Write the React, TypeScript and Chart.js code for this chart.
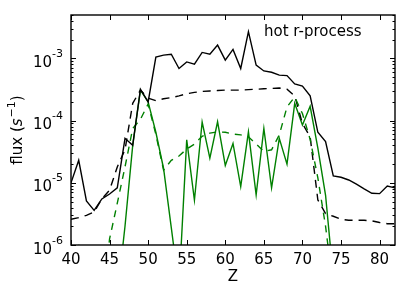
import React, { useEffect, useRef } from 'react';
import { Chart, registerables } from 'chart.js';

Chart.register(...registerables);

// ---- data ----
const Z = [40, 41, 42, 43, 44, 45, 46, 47, 48, 49, 50, 51, 52, 53, 54, 55, 56, 57, 58, 59, 60, 61, 62, 63, 64, 65, 66, 67, 68, 69, 70, 71, 72, 73, 74, 75, 76, 77, 78, 79, 80, 81, 82];

const blackSolid = [
  1.0e-5, 2.3e-5, 5.1e-6, 3.6e-6, 5.5e-6, 6.6e-6, 8.3e-6, 5.2e-5, 4.0e-5, 3.2e-4,
  2.0e-4, 1.05e-3, 1.13e-3, 1.17e-3, 6.9e-4, 8.8e-4, 8.1e-4, 1.25e-3, 1.17e-3, 1.64e-3,
  9.4e-4, 1.4e-3, 6.9e-4, 2.7e-3, 7.8e-4, 6.3e-4, 6.0e-4, 5.4e-4, 5.3e-4, 3.9e-4,
  3.6e-4, 2.5e-4, 6.5e-5, 4.6e-5, 1.29e-5, 1.23e-5, 1.11e-5, 9.5e-6, 8.0e-6, 6.8e-6,
  6.7e-6, 8.9e-6, 8.3e-6,
];

const blackDashed = [
  2.6e-6, 2.75e-6, 3.0e-6, 3.4e-6, 5.5e-6, 7.6e-6, 1.8e-5, 3.4e-5, 1.9e-4, 3.1e-4,
  2.3e-4, 2.1e-4, 2.25e-4, 2.35e-4, 2.5e-4, 2.7e-4, 2.85e-4, 2.95e-4, 3.0e-4, 3.05e-4,
  3.1e-4, 3.1e-4, 3.1e-4, 3.15e-4, 3.2e-4, 3.25e-4, 3.3e-4, 3.35e-4, 3.2e-4, 2.5e-4,
  9.0e-5, 5.5e-5, 5.3e-6, 3.2e-6, 2.9e-6, 2.6e-6, 2.5e-6, 2.5e-6, 2.5e-6, 2.45e-6,
  2.3e-6, 2.2e-6, 2.2e-6,
];

const greenSolid = [
  null, null, null, null, null, null, 1.5e-7, 2.0e-6, 4.0e-5, 3.1e-4,
  2.0e-4, 6.5e-5, 1.7e-5, 1.9e-6, 2.1e-7, 4.9e-5, 5.3e-6, 9.5e-5, 2.5e-5, 9.6e-5,
  1.9e-5, 4.3e-5, 8.7e-6, 6.6e-5, 6.4e-6, 7.5e-5, 8.3e-6, 5.2e-5, 2.0e-5, 1.9e-4,
  8.5e-5, 1.7e-4, 3.6e-5, 6.3e-6, 3.0e-7, null, null, null, null, null,
  null, null, null,
];

const greenDashed = [
  1.0e-7, 1.05e-6, 1.0e-7, null, 1.0e-7, 1.25e-6, 4.7e-6, 1.8e-5, 7.5e-5, 1.05e-4,
  1.85e-4, 6.0e-5, 1.6e-5, 2.3e-5, 2.7e-5, 3.5e-5, 4.2e-5, 5.6e-5, 6.3e-5, 6.6e-5,
  6.5e-5, 6.1e-5, 5.9e-5, 5.5e-5, 4.2e-5, 3.2e-5, 3.4e-5, 5.9e-5, 1.66e-4, 2.4e-4,
  1.3e-4, 5.0e-5, 1.2e-5, 2.0e-6, 2.0e-7, null, null, null, null, null,
  null, null, null,
];

const xTicks = [40, 45, 50, 55, 60, 65, 70, 75, 80];
const yTickValues = [1e-6, 1e-5, 1e-4, 1e-3];
const yTickBase = '10';
const yTickExponents = ['-6', '-5', '-4', '-3'];
const yMinorMultipliers = [2, 3, 4, 5, 6, 7, 8, 9];
const panelLabel = 'hot r-process';
const xTitle = 'Z';
const yTitleMain = 'flux (';
const yTitleVar = 's';
const yTitleExp = '−1';
const yTitleEnd = ')';

const FONT = '"DejaVu Sans", "Liberation Sans", sans-serif';

function pts(vals: (number | null)[]) {
  return Z.map((z, i) => ({ x: z, y: vals[i] }));
}

const framePlugin = {
  id: 'frameTicks',
  afterDatasetsDraw(chart: any) {
    const { ctx, chartArea, scales } = chart;
    const { left, right, top, bottom } = chartArea;
    const xs = scales.x;
    const ys = scales.y;
    ctx.save();
    ctx.strokeStyle = '#000';
    ctx.lineWidth = 1;
    ctx.beginPath();
    for (const v of xTicks) {
      const px = Math.round(xs.getPixelForValue(v)) + 0.5;
      ctx.moveTo(px, bottom);
      ctx.lineTo(px, bottom - 5);
      ctx.moveTo(px, top);
      ctx.lineTo(px, top + 5);
    }
    for (const d of yTickValues) {
      const py = Math.round(ys.getPixelForValue(d)) + 0.5;
      ctx.moveTo(left, py);
      ctx.lineTo(left + 5, py);
      ctx.moveTo(right, py);
      ctx.lineTo(right - 5, py);
      for (const m of yMinorMultipliers) {
        const v = d * m;
        if (v > ys.max) continue;
        const pm = Math.round(ys.getPixelForValue(v)) + 0.5;
        ctx.moveTo(left, pm);
        ctx.lineTo(left + 2.5, pm);
        ctx.moveTo(right, pm);
        ctx.lineTo(right - 2.5, pm);
      }
    }
    ctx.stroke();
    ctx.lineWidth = 1.4;
    ctx.strokeRect(left, top, right - left, bottom - top);

    ctx.fillStyle = '#000';
    // panel label
    ctx.font = '15px ' + FONT;
    ctx.textBaseline = 'middle';
    ctx.textAlign = 'left';
    ctx.fillText(panelLabel, left + 193, top + 17);

    // y tick labels: 10^n with raised exponent
    ctx.textBaseline = 'alphabetic';
    ctx.textAlign = 'right';
    yTickValues.forEach((v, i) => {
      const py = ys.getPixelForValue(v);
      const xr = left - 8;
      ctx.font = '11px ' + FONT;
      const ew = ctx.measureText(yTickExponents[i]).width;
      ctx.fillText(yTickExponents[i], xr, py - 1.5);
      ctx.font = '15px ' + FONT;
      ctx.fillText(yTickBase, xr - ew, py + 8.5);
    });

    // y title, rotated
    ctx.save();
    const cx = 16;
    const cy = (top + bottom) / 2;
    ctx.translate(cx, cy);
    ctx.rotate(-Math.PI / 2);
    ctx.textAlign = 'left';
    ctx.textBaseline = 'alphabetic';
    ctx.font = '15px ' + FONT;
    const w1 = ctx.measureText(yTitleMain).width;
    ctx.font = 'italic 15px ' + FONT;
    const w2 = ctx.measureText(yTitleVar).width;
    ctx.font = '11px ' + FONT;
    const w3 = ctx.measureText(yTitleExp).width;
    ctx.font = '15px ' + FONT;
    const w4 = ctx.measureText(yTitleEnd).width;
    const total = w1 + w2 + w3 + w4 + 1;
    let xx = -total / 2;
    const base = 5.5;
    ctx.font = '15px ' + FONT;
    ctx.fillText(yTitleMain, xx, base);
    xx += w1;
    ctx.font = 'italic 15px ' + FONT;
    ctx.fillText(yTitleVar, xx, base);
    xx += w2 + 1;
    ctx.font = '11px ' + FONT;
    ctx.fillText(yTitleExp, xx, base - 7);
    xx += w3;
    ctx.font = '15px ' + FONT;
    ctx.fillText(yTitleEnd, xx, base);
    ctx.restore();

    ctx.restore();
  },
};

export default function App() {
  const ref = useRef<HTMLCanvasElement | null>(null);
  useEffect(() => {
    if (!ref.current) return;
    const common = { pointRadius: 0, tension: 0, fill: false, spanGaps: false };
    const chart = new Chart(ref.current, {
      type: 'line',
      data: {
        datasets: [
          { ...common, label: 'black solid', data: pts(blackSolid), borderColor: '#000000', borderWidth: 1.4 },
          { ...common, label: 'green dashed', data: pts(greenDashed), borderColor: '#008000', borderWidth: 1.4, borderDash: [7, 6] },
          { ...common, label: 'black dashed', data: pts(blackDashed), borderColor: '#000000', borderWidth: 1.4, borderDash: [8, 6] },
          { ...common, label: 'green solid', data: pts(greenSolid), borderColor: '#008000', borderWidth: 1.4 },
        ] as any,
      },
      options: {
        animation: false,
        responsive: false,
        maintainAspectRatio: false,
        layout: { padding: { left: 0, right: 20, top: 15, bottom: 0 } },
        plugins: { legend: { display: false }, tooltip: { enabled: false }, title: { display: false } },
        scales: {
          x: {
            type: 'linear',
            min: 40,
            max: 82,
            afterBuildTicks: (s: any) => { s.ticks = xTicks.map((v) => ({ value: v })); },
            afterFit: (s: any) => { s.height = 51; },
            ticks: {
              autoSkip: false,
              maxRotation: 0,
              padding: 6,
              color: '#000',
              font: { family: FONT, size: 15 },
              callback: (v: any) => String(v),
            },
            grid: { display: false, drawTicks: false },
            border: { display: false },
            title: { display: true, text: xTitle, color: '#000', font: { family: FONT, size: 15 }, padding: { top: 0, bottom: 10 } },
          },
          y: {
            type: 'logarithmic',
            min: 1e-6,
            max: 5e-3,
            afterBuildTicks: (s: any) => { s.ticks = yTickValues.map((v) => ({ value: v })); },
            afterFit: (s: any) => { s.width = 71; },
            ticks: { display: false },
            grid: { display: false, drawTicks: false },
            border: { display: false },
            title: { display: false },
          },
        },
      } as any,
      plugins: [framePlugin],
    });
    return () => chart.destroy();
  }, []);
  return (
    <div style={{ position: 'fixed', left: 0, top: 0, width: 415, height: 296, background: '#fff' }}>
      <canvas ref={ref} width={415} height={296} style={{ width: 415, height: 296, display: 'block' }} />
    </div>
  );
}
